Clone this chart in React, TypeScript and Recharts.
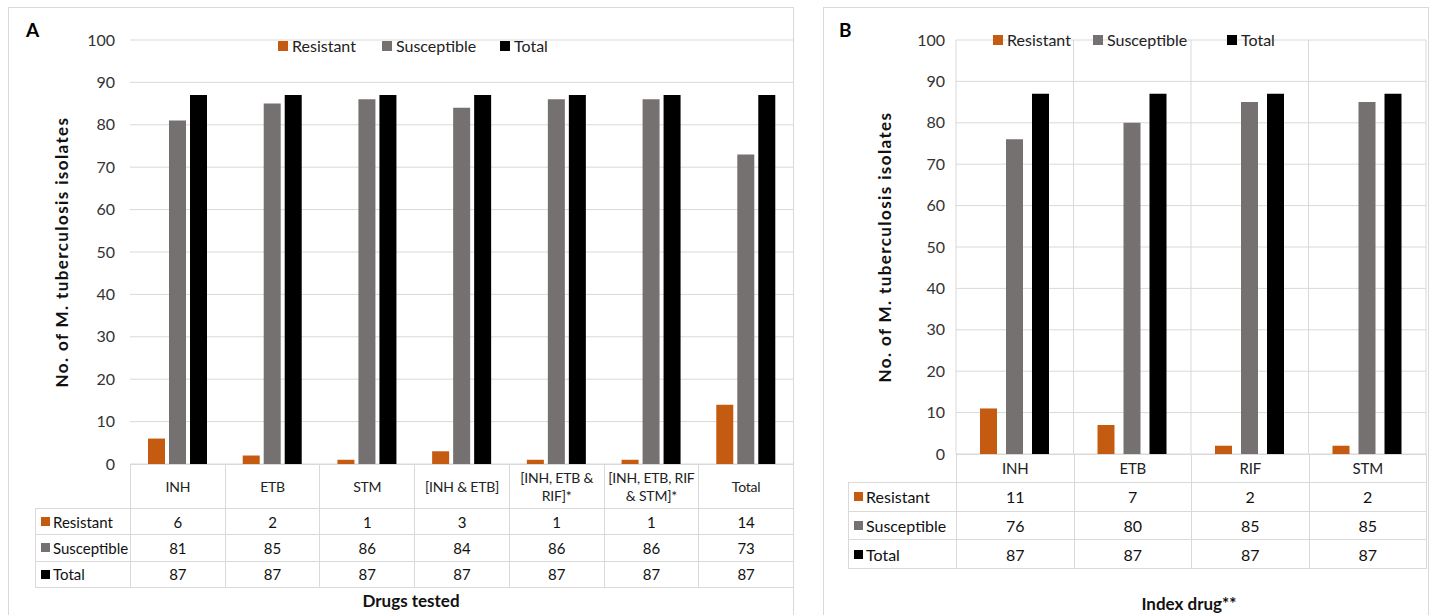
import React from "react";
import { BarChart, Bar, XAxis, YAxis, CartesianGrid, Legend } from "recharts";

// Panel A: drugs tested
const drugsA = ["INH", "ETB", "STM", "[INH & ETB]", "[INH, ETB & RIF]*", "[INH, ETB, RIF & STM]*", "Total"];
const resistantA = [6, 2, 1, 3, 1, 1, 14];
const susceptibleA = [81, 85, 86, 84, 86, 86, 73];
const totalA = [87, 87, 87, 87, 87, 87, 87];

// Panel B: index drug
const drugsB = ["INH", "ETB", "RIF", "STM"];
const resistantB = [11, 7, 2, 2];
const susceptibleB = [76, 80, 85, 85];
const totalB = [87, 87, 87, 87];

const yTicks = [0, 10, 20, 30, 40, 50, 60, 70, 80, 90, 100];

const SERIES = [
  { key: "resistant", name: "Resistant", color: "#C55A11" },
  { key: "susceptible", name: "Susceptible", color: "#767171" },
  { key: "total", name: "Total", color: "#000000" },
];

const FONT = "Lato, 'Open Sans', sans-serif";
const GRID = "#d9d9d9";
const BOTTOM = 16; // chart margin below the plot, leaves room for the "0" tick

const toRows = (cats: string[], r: number[], s: number[], t: number[]) =>
  cats.map((name, i) => ({ name, resistant: r[i], susceptible: s[i], total: t[i] }));

type PanelCfg = {
  letter: string;
  letterPos: [number, number];
  frame: { left: number; top: number; width: number; height: number };
  chartLeft: number;
  chartWidth: number;
  chartHeight: number;
  yAxisWidth: number;
  marginRight: number;
  tickMargin: number;
  titleDx: number;
  barGap: number;
  vertical: boolean;
  legendPos: [number, number];
  legendWidths: number[];
  tableLabelLeft: number;
  headerH: number;
  rowH: number;
  headerFont: number;
  cellFont: number;
  xTitle: string;
  xTitlePos: [number, number];
};

const CELL: React.CSSProperties = {
  position: "absolute",
  boxSizing: "border-box",
  border: `1px solid ${GRID}`,
  display: "flex",
  alignItems: "center",
  color: "#111",
};

function Panel({ cfg, cats, r, s, t }: { cfg: PanelCfg; cats: string[]; r: number[]; s: number[]; t: number[] }) {
  const data = toRows(cats, r, s, t);
  const plotLeft = cfg.chartLeft + cfg.yAxisWidth;
  const plotWidth = cfg.chartWidth - cfg.yAxisWidth - cfg.marginRight;
  const plotBottom = cfg.chartHeight - BOTTOM;
  const colW = plotWidth / cats.length;
  const rowVals = [r, s, t];

  return (
    <>
      <div
        style={{
          position: "absolute",
          ...cfg.frame,
          boxSizing: "border-box",
          border: `1px solid ${GRID}`,
        }}
      />
      <div
        style={{
          position: "absolute",
          left: cfg.letterPos[0],
          top: cfg.letterPos[1],
          fontWeight: 700,
          fontSize: 19,
        }}
      >
        {cfg.letter}
      </div>
      <div style={{ position: "absolute", left: cfg.chartLeft, top: 0 }}>
        <BarChart
          width={cfg.chartWidth}
          height={cfg.chartHeight}
          data={data}
          margin={{ top: 21, right: cfg.marginRight, bottom: BOTTOM, left: 0 }}
          barSize={17}
          barGap={cfg.barGap}
        >
          <CartesianGrid
            stroke={GRID}
            vertical={cfg.vertical}
            verticalCoordinatesGenerator={({ offset }: any) =>
              cats.map((_, i) => offset.left + (i * offset.width) / cats.length).concat(offset.left + offset.width)
            }
          />
          <XAxis dataKey="name" hide />
          <YAxis
            width={cfg.yAxisWidth}
            domain={[0, 100]}
            ticks={yTicks}
            interval={0}
            axisLine={false}
            tickLine={false}
            tickSize={0}
            tickMargin={cfg.tickMargin}
            tick={{ fill: "#333", fontSize: 16, fontFamily: FONT }}
            label={{
              value: "No. of  M. tuberculosis isolates",
              angle: -90,
              position: "center",
              dx: cfg.titleDx,
              style: { fontWeight: 700, fontSize: 17, letterSpacing: 1.4, fill: "#111", fontFamily: FONT, whiteSpace: "pre" },
            }}
          />
          <Legend
            verticalAlign="top"
            wrapperStyle={{ left: cfg.legendPos[0] - cfg.chartLeft, top: cfg.legendPos[1], width: "auto" }}
            content={({ payload }: any) => (
              <div style={{ display: "flex", alignItems: "center", fontSize: 16, fontFamily: FONT, color: "#222" }}>
                {(payload || []).map((p: any, i: number) => (
                  <div key={p.value} style={{ display: "flex", alignItems: "center", width: cfg.legendWidths[i] }}>
                    <span style={{ width: 10, height: 10, background: p.color, marginRight: 4, display: "inline-block" }} />
                    <span>{p.value}</span>
                  </div>
                ))}
              </div>
            )}
          />
          {SERIES.map((sr) => (
            <Bar key={sr.key} dataKey={sr.key} name={sr.name} fill={sr.color} isAnimationActive={false} />
          ))}
        </BarChart>
      </div>

      {/* data table under the plot */}
      {cats.map((c, i) => (
        <div
          key={"h" + c}
          style={{
            ...CELL,
            left: plotLeft + i * colW,
            top: plotBottom,
            width: colW + 1,
            height: cfg.headerH + 1,
            justifyContent: "center",
            textAlign: "center",
            fontSize: cfg.headerFont,
            letterSpacing: -0.2,
            lineHeight: 1.25,
            padding: 0,
            color: "#222",
          }}
        >
          {c}
        </div>
      ))}
      {SERIES.map((sr, ri) => {
        const top = plotBottom + cfg.headerH + ri * cfg.rowH;
        return (
          <React.Fragment key={sr.key}>
            <div
              style={{
                ...CELL,
                left: cfg.tableLabelLeft,
                top,
                width: plotLeft - cfg.tableLabelLeft + 1,
                height: cfg.rowH + 1,
                paddingLeft: 5,
                fontSize: cfg.cellFont,
              }}
            >
              <span style={{ width: 9, height: 9, background: sr.color, marginRight: 3, display: "inline-block" }} />
              {sr.name}
            </div>
            {rowVals[ri].map((v, i) => (
              <div
                key={i}
                style={{
                  ...CELL,
                  left: plotLeft + i * colW,
                  top,
                  width: colW + 1,
                  height: cfg.rowH + 1,
                  justifyContent: "center",
                  fontSize: cfg.cellFont,
                }}
              >
                {v}
              </div>
            ))}
          </React.Fragment>
        );
      })}
      <div
        style={{
          position: "absolute",
          left: cfg.xTitlePos[0] - 150,
          width: 300,
          top: cfg.xTitlePos[1],
          textAlign: "center",
          fontWeight: 700,
          fontSize: 17,
          color: "#111",
        }}
      >
        {cfg.xTitle}
      </div>
    </>
  );
}

const cfgA: PanelCfg = {
  letter: "A",
  letterPos: [26, 18],
  frame: { left: 8, top: 7, width: 786, height: 620 },
  chartLeft: 0,
  chartWidth: 800,
  chartHeight: 480,
  yAxisWidth: 130,
  marginRight: 7,
  tickMargin: 15,
  titleDx: -3,
  barGap: 4,
  vertical: false,
  legendPos: [278, 36],
  legendWidths: [104, 118, 60],
  tableLabelLeft: 35,
  headerH: 44,
  rowH: 26.3,
  headerFont: 14,
  cellFont: 15,
  xTitle: "Drugs tested",
  xTitlePos: [411, 590],
};

const cfgB: PanelCfg = {
  letter: "B",
  letterPos: [839, 18],
  frame: { left: 823, top: 7, width: 606, height: 620 },
  chartLeft: 823,
  chartWidth: 605,
  chartHeight: 470,
  yAxisWidth: 133,
  marginRight: 2,
  tickMargin: 11,
  titleDx: -4.5,
  barGap: 9,
  vertical: true,
  legendPos: [993, 30],
  legendWidths: [100, 134, 60],
  tableLabelLeft: 848,
  headerH: 28,
  rowH: 28.7,
  headerFont: 15,
  cellFont: 16,
  xTitle: "Index drug**",
  xTitlePos: [1189, 593],
};

export default function App() {
  return (
    <div
      style={{
        position: "absolute",
        left: 0,
        top: 0,
        width: 1430,
        height: 615,
        overflow: "hidden",
        background: "#fff",
        fontFamily: FONT,
      }}
    >
      <Panel cfg={cfgA} cats={drugsA} r={resistantA} s={susceptibleA} t={totalA} />
      <Panel cfg={cfgB} cats={drugsB} r={resistantB} s={susceptibleB} t={totalB} />
    </div>
  );
}
